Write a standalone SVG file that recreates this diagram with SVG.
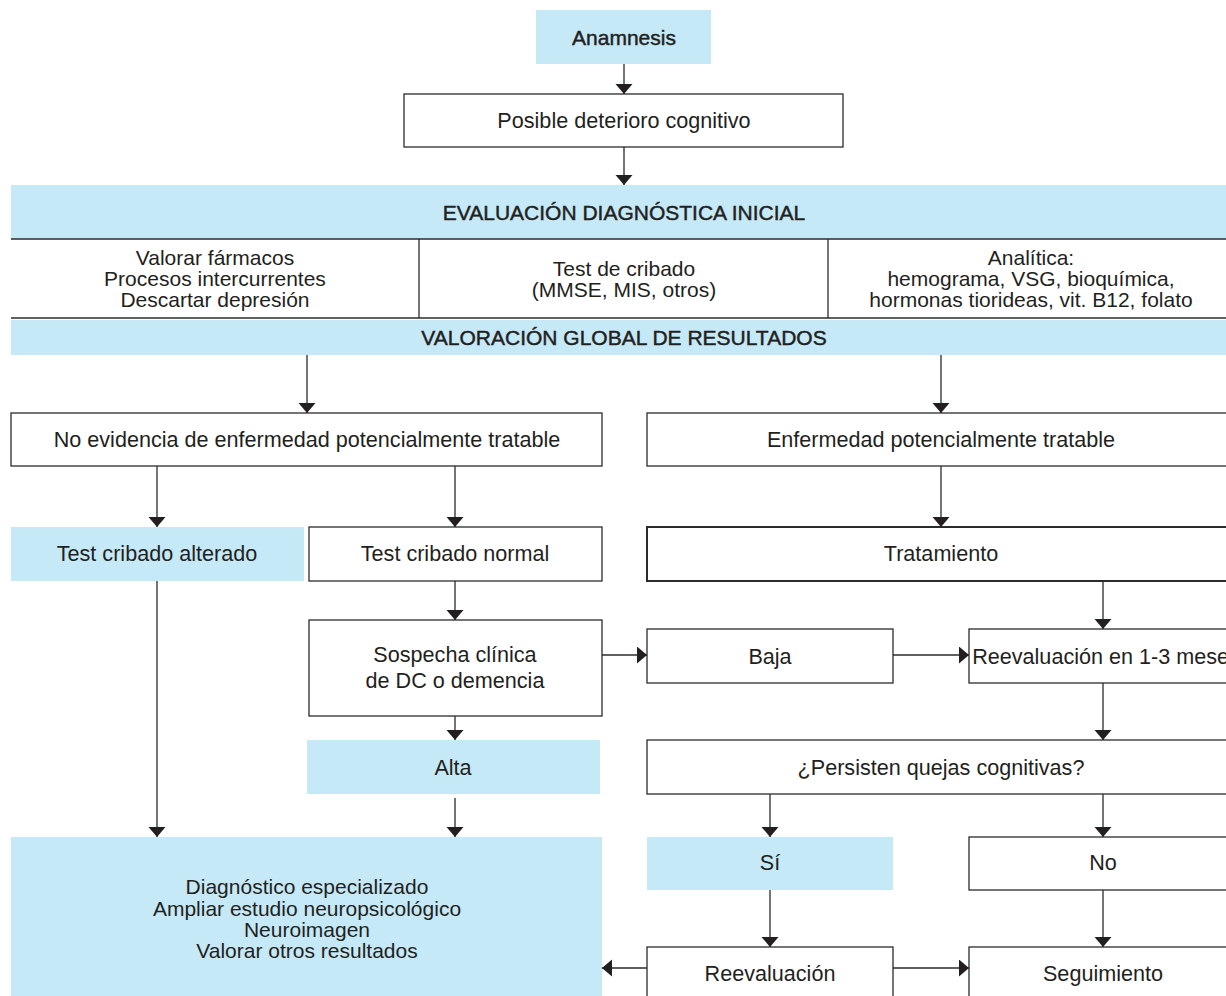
<svg xmlns="http://www.w3.org/2000/svg" width="1226" height="996" viewBox="0 0 1226 996">
<defs>
<style>
.t{font-family:"Liberation Sans",Arial,sans-serif;font-size:21.6px;fill:#231f20;text-anchor:middle;dominant-baseline:central}
.m{font-size:21px}
.h{font-size:21px;stroke:#231f20;stroke-width:0.45}
.w{fill:#ffffff;stroke:#2b2b2b;stroke-width:1.3}
.b{fill:#c6e9f8;stroke:none}
.c{stroke:#2b2b2b;stroke-width:1.3;fill:none;marker-end:url(#ah)}
.ln{stroke:#2b2b2b;stroke-width:1.3;fill:none}
</style>
<marker id="ah" markerUnits="userSpaceOnUse" markerWidth="12" markerHeight="18" refX="10" refY="8.5" orient="auto" viewBox="0 0 12 18">
<path d="M0,0 L10,8.5 L0,17 z" fill="#231f20"/>
</marker>
</defs>
<rect width="1226" height="996" fill="#ffffff"/>

<g id="anamnesis">
<rect class="b" x="536" y="10" width="175" height="54"/>
<text class="t h" x="624" y="37">Anamnesis</text>
</g>
<g id="posible">
<rect class="w" x="404" y="94" width="439" height="53"/>
<text class="t" x="624" y="120">Posible deterioro cognitivo</text>
</g>
<g id="evaluacion">
<rect class="b" x="11" y="185" width="1220" height="54"/>
<text class="t h" x="624" y="212">EVALUACIÓN DIAGNÓSTICA INICIAL</text>
<line class="ln" x1="11" y1="239" x2="1226" y2="239"/>
<line class="ln" x1="11" y1="318" x2="1226" y2="318"/>
<line class="ln" x1="419" y1="239" x2="419" y2="318"/>
<line class="ln" x1="828" y1="239" x2="828" y2="318"/>
<text class="t m" x="215" y="257">Valorar fármacos</text>
<text class="t m" x="215" y="278">Procesos intercurrentes</text>
<text class="t m" x="215" y="299">Descartar depresión</text>
<text class="t m" x="624" y="268">Test de cribado</text>
<text class="t m" x="624" y="289">(MMSE, MIS, otros)</text>
<text class="t m" x="1031" y="257">Analítica:</text>
<text class="t m" x="1031" y="278">hemograma, VSG, bioquímica,</text>
<text class="t m" x="1031" y="299">hormonas tiorideas, vit. B12, folato</text>
</g>
<g id="valoracion">
<rect class="b" x="11" y="320" width="1220" height="35"/>
<text class="t h" x="624" y="337">VALORACIÓN GLOBAL DE RESULTADOS</text>
</g>
<g id="no-evidencia">
<rect class="w" x="11" y="413" width="591" height="53"/>
<text class="t" x="307" y="439">No evidencia de enfermedad potencialmente tratable</text>
</g>
<g id="enfermedad">
<rect class="w" x="647" y="413" width="590" height="53"/>
<text class="t" x="941" y="439">Enfermedad potencialmente tratable</text>
</g>
<g id="alterado">
<rect class="b" x="11" y="527" width="293" height="54"/>
<text class="t" x="157" y="553">Test cribado alterado</text>
</g>
<g id="normal">
<rect class="w" x="309" y="527" width="293" height="54"/>
<text class="t" x="455" y="553">Test cribado normal</text>
</g>
<g id="tratamiento">
<rect class="w" x="647" y="527" width="590" height="54" style="stroke-width:2"/>
<text class="t" x="941" y="553">Tratamiento</text>
</g>
<g id="sospecha">
<rect class="w" x="309" y="620" width="293" height="96"/>
<text class="t" x="455" y="654">Sospecha clínica</text>
<text class="t" x="455" y="680">de DC o demencia</text>
</g>
<g id="baja">
<rect class="w" x="647" y="629" width="246" height="54"/>
<text class="t" x="770" y="656">Baja</text>
</g>
<g id="reeval13">
<rect class="w" x="969" y="629" width="268" height="54"/>
<text class="t" x="1106" y="656">Reevaluación en 1-3 meses</text>
</g>
<g id="alta">
<rect class="b" x="307" y="740" width="293" height="54"/>
<text class="t" x="453" y="767">Alta</text>
</g>
<g id="persisten">
<rect class="w" x="647" y="740" width="590" height="54"/>
<text class="t" x="941" y="767">¿Persisten quejas cognitivas?</text>
</g>
<g id="diagnostico">
<rect class="b" x="11" y="837" width="591" height="170"/>
<text class="t m" x="307" y="886">Diagnóstico especializado</text>
<text class="t m" x="307" y="908">Ampliar estudio neuropsicológico</text>
<text class="t m" x="307" y="929">Neuroimagen</text>
<text class="t m" x="307" y="950">Valorar otros resultados</text>
</g>
<g id="si">
<rect class="b" x="647" y="837" width="246" height="53"/>
<text class="t" x="770" y="862">Sí</text>
</g>
<g id="no">
<rect class="w" x="969" y="837" width="268" height="53"/>
<text class="t" x="1103" y="862">No</text>
</g>
<g id="reevaluacion">
<rect class="w" x="647" y="947" width="246" height="60"/>
<text class="t" x="770" y="973">Reevaluación</text>
</g>
<g id="seguimiento">
<rect class="w" x="969" y="947" width="268" height="60"/>
<text class="t" x="1103" y="973">Seguimiento</text>
</g>

<g id="connectors">
<line class="c" x1="624" y1="64" x2="624" y2="94"/>
<line class="c" x1="624" y1="147" x2="624" y2="185"/>
<line class="c" x1="307" y1="355" x2="307" y2="413"/>
<line class="c" x1="941" y1="355" x2="941" y2="413"/>
<line class="c" x1="157" y1="466" x2="157" y2="527"/>
<line class="c" x1="455" y1="466" x2="455" y2="527"/>
<line class="c" x1="941" y1="466" x2="941" y2="527"/>
<line class="c" x1="157" y1="581" x2="157" y2="837"/>
<line class="c" x1="455" y1="581" x2="455" y2="620"/>
<line class="c" x1="602" y1="655" x2="647" y2="655"/>
<line class="c" x1="893" y1="655" x2="969" y2="655"/>
<line class="c" x1="1103" y1="581" x2="1103" y2="629"/>
<line class="c" x1="455" y1="716" x2="455" y2="740"/>
<line class="c" x1="1103" y1="683" x2="1103" y2="740"/>
<line class="c" x1="455" y1="798" x2="455" y2="837"/>
<line class="c" x1="770" y1="794" x2="770" y2="837"/>
<line class="c" x1="1103" y1="794" x2="1103" y2="837"/>
<line class="c" x1="770" y1="890" x2="770" y2="947"/>
<line class="c" x1="1103" y1="890" x2="1103" y2="947"/>
<line class="c" x1="647" y1="968" x2="602" y2="968"/>
<line class="c" x1="893" y1="968" x2="969" y2="968"/>
</g>
</svg>
